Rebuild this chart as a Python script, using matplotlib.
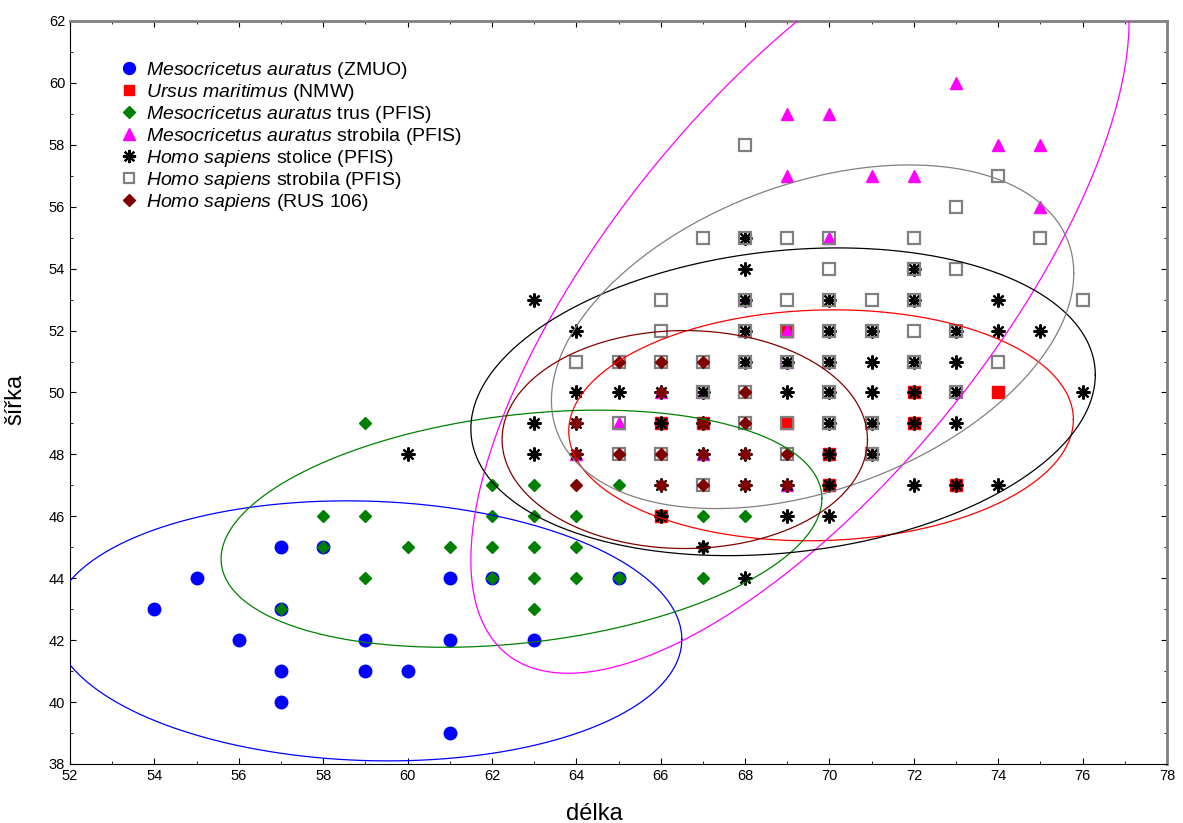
import numpy as np
import matplotlib
matplotlib.use("Agg")
import matplotlib.pyplot as plt
from matplotlib.ticker import MultipleLocator

plt.rcParams['font.family'] = ['Liberation Sans', 'DejaVu Sans']
plt.rcParams['mathtext.fontset'] = 'custom'
plt.rcParams['mathtext.rm'] = 'Liberation Sans'
plt.rcParams['mathtext.it'] = 'Liberation Sans:italic'

# Mesocricetus auratus (ZMUO)
ma_zmuo_x = [54, 55, 56, 57, 57, 57, 57, 58, 59, 59, 60, 61, 61, 61, 62, 63, 65]
ma_zmuo_y = [43, 44, 42, 45, 43, 41, 40, 45, 42, 41, 41, 44, 42, 39, 44, 42, 44]

# Ursus maritimus (NMW)
um_x = [74, 69, 72, 72, 73, 66, 67, 66, 70, 70, 69]
um_y = [50, 49, 50, 49, 47, 49, 49, 46, 48, 47, 52]

# Mesocricetus auratus trus (PFIS)
ma_trus_x = [59, 58, 59, 62, 63, 65, 62, 63, 64, 67, 68, 58, 60, 61, 62, 63, 64,
             67, 59, 62, 63, 64, 65, 67, 57, 63]
ma_trus_y = [49, 46, 46, 47, 47, 47, 46, 46, 46, 46, 46, 45, 45, 45, 45, 45, 45,
             45, 44, 44, 44, 44, 44, 44, 43, 43]

# Mesocricetus auratus strobila (PFIS)
ma_strob_x = [69, 70, 73, 69, 71, 72, 74, 75, 75, 70,
              68, 69, 69, 66, 67, 65, 64, 67, 69]
ma_strob_y = [59, 59, 60, 57, 57, 57, 58, 58, 56, 55,
              53, 52, 51, 50, 50, 49, 48, 48, 47]

# Homo sapiens stolice (PFIS)
hs_stol_x = [60, 63, 63, 63, 64, 64, 65, 64, 68, 68, 68, 68, 68, 69, 70, 70, 70,
             71, 71, 71, 69, 70, 66, 67, 70, 71, 64, 67, 68, 70, 71, 66, 68, 69,
             70, 66, 69, 70, 67, 68, 72, 72, 72, 72, 72, 72, 73, 73, 73, 73, 73,
             74, 74, 74, 75, 76, 66, 67]
hs_stol_y = [48, 53, 49, 48, 52, 50, 50, 49, 55, 54, 53, 52, 51, 51, 53, 52, 51,
             52, 51, 50, 50, 50, 49, 49, 49, 49, 48, 48, 48, 48, 48, 47, 47, 47,
             47, 46, 46, 46, 45, 44, 54, 53, 51, 50, 49, 47, 52, 51, 50, 49, 47,
             53, 52, 47, 52, 50, 50, 50]

# Homo sapiens strobila (PFIS)
hs_strob_x = [68, 67, 68, 69, 70, 70, 66, 68, 69, 70, 71, 66, 68, 69, 70, 71,
              64, 65, 66, 67, 68, 69, 70, 67, 68, 70, 65, 68, 69, 70, 71, 65, 66,
              69, 71, 67, 72, 72, 72, 72, 72, 73, 73, 73, 73, 74, 74, 75, 76]
hs_strob_y = [58, 55, 55, 55, 55, 54, 53, 53, 53, 53, 53, 52, 52, 52, 52, 52,
              51, 51, 51, 51, 51, 51, 51, 50, 50, 50, 49, 49, 49, 49, 49, 48, 48,
              48, 48, 47, 55, 54, 53, 52, 51, 56, 54, 52, 50, 57, 51, 55, 53]

# Homo sapiens (RUS 106)
hs_rus_x = [65, 66, 67, 66, 68, 64, 67, 68, 64, 65, 66, 67, 68, 69, 64, 66, 67, 68, 69]
hs_rus_y = [51, 51, 51, 50, 50, 49, 49, 49, 48, 48, 48, 48, 48, 48, 47, 47, 47, 47, 47]

# ellipse parameters: centre, half-extent in x and y, correlation
ell_cx = [59.05, 69.8, 62.7, 69.3, 68.9, 69.6, 66.57]
ell_cy = [42.3, 48.94, 45.6, 53.29, 49.7, 51.8, 48.48]
ell_ax = [7.45, 5.98, 7.12, 7.8, 7.4, 6.19, 4.33]
ell_by = [4.2, 3.73, 3.83, 12.36, 4.97, 5.55, 3.52]
ell_rho = [-0.065, 0.05, 0.255, 0.704, 0.175, 0.37, 0.0]

labels = [r"$\mathit{Mesocricetus\ auratus}$ (ZMUO)",
          r"$\mathit{Ursus\ maritimus}$ (NMW)",
          r"$\mathit{Mesocricetus\ auratus}$ trus (PFIS)",
          r"$\mathit{Mesocricetus\ auratus}$ strobila (PFIS)",
          r"$\mathit{Homo\ sapiens}$ stolice (PFIS)",
          r"$\mathit{Homo\ sapiens}$ strobila (PFIS)",
          r"$\mathit{Homo\ sapiens}$ (RUS 106)"]
colors = ['#0000ff', '#ff0000', '#008000', '#ff00ff', '#000000', '#808080', '#800000']

fig = plt.figure(figsize=(11.83, 8.23), dpi=100)
ax = fig.add_axes([0.0592, 0.0717, 0.9273, 0.9028])

ax.plot(ma_zmuo_x, ma_zmuo_y, 'o', ls='none', color=colors[0], ms=9, mec=colors[0], label=labels[0], zorder=3)
ax.plot(um_x, um_y, 's', ls='none', color=colors[1], ms=8, mec=colors[1], label=labels[1], zorder=3)
ax.plot(ma_trus_x, ma_trus_y, 'D', ls='none', color=colors[2], ms=6.5, mec=colors[2], label=labels[2], zorder=3)
ax.plot(ma_strob_x, ma_strob_y, '^', ls='none', color=colors[3], ms=9, mec=colors[3], label=labels[3], zorder=3)
ax.plot(hs_stol_x, hs_stol_y, marker=(8, 2, 0), ls='none', color=colors[4], ms=10, mew=1.6, label=labels[4], zorder=3)
ax.plot(hs_strob_x, hs_strob_y, 's', ls='none', mfc='none', mec=colors[5], ms=8, mew=1.6, label=labels[5], zorder=3)
ax.plot(hs_rus_x, hs_rus_y, 'D', ls='none', color=colors[6], ms=6.5, mec=colors[6], label=labels[6], zorder=3)

t = np.linspace(0, 2 * np.pi, 500)
for i in range(len(ell_cx)):
    ex = ell_cx[i] + ell_ax[i] * np.cos(t)
    ey = ell_cy[i] + ell_by[i] * (ell_rho[i] * np.cos(t) + np.sqrt(1 - ell_rho[i] ** 2) * np.sin(t))
    ax.plot(ex, ey, color=colors[i], lw=0.9, zorder=4)

ax.set_xlim(52, 78)
ax.set_ylim(38, 62)
ax.xaxis.set_major_locator(MultipleLocator(2))
ax.xaxis.set_minor_locator(MultipleLocator(1))
ax.yaxis.set_major_locator(MultipleLocator(2))
ax.yaxis.set_minor_locator(MultipleLocator(1))
ax.tick_params(which='both', direction='in', top=True, right=True, labelsize=10.5, color='black')
ax.tick_params(which='major', length=4)
ax.tick_params(which='minor', length=2.5)
ax.spines['top'].set_color('#808080')
ax.spines['right'].set_color('#808080')
ax.spines['top'].set_linewidth(2)
ax.spines['right'].set_linewidth(2)

ax.set_xlabel('délka', fontsize=17)
ax.set_ylabel('šířka', fontsize=17)
ax.xaxis.set_label_coords(0.478, -0.052)
ax.yaxis.set_label_coords(-0.04, 0.49)

ax.legend(loc='upper left', bbox_to_anchor=(0.038, 0.958), frameon=False, fontsize=14,
          handletextpad=0.38, labelspacing=0.05, borderaxespad=0, handlelength=1.0,
          markerscale=0.95)

fig.savefig('out.png', dpi=100)
